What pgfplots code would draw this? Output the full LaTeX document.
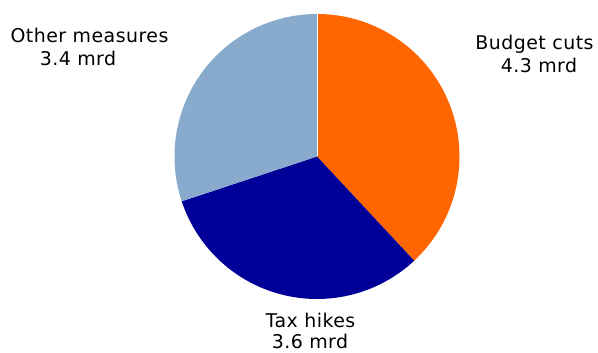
\documentclass[border=0pt]{standalone}
\usepackage{pgfplots}
\pgfplotsset{compat=1.18}
\usepackage{fontspec}
\setmainfont{DejaVu Sans}[LetterSpace=2.5]
\definecolor{cutsc}{HTML}{FF6600}
\definecolor{taxc}{HTML}{000099}
\definecolor{otherc}{HTML}{88AACC}
\def\vA{4.3}\def\vB{3.6}\def\vC{3.4}
\pgfmathsetmacro\tot{\vA+\vB+\vC}
\pgfmathsetmacro\aA{90}
\pgfmathsetmacro\aB{90-360*\vA/\tot}
\pgfmathsetmacro\aC{\aB-360*\vB/\tot}
\pgfmathsetmacro\aD{\aC-360*\vC/\tot}
\def\cx{317}\def\cy{196.5}\def\rr{142.5}
\begin{document}
\begin{tikzpicture}
\begin{axis}[hide axis, scale only axis, width=598bp, height=353bp,
  xmin=0, xmax=598, ymin=0, ymax=353, clip=false]
\path (axis cs:0,0) rectangle (axis cs:598,353);
\addplot[fill=cutsc, draw=none, domain=\aA:\aB, samples=80, smooth]
  ({\cx+\rr*cos(x)},{\cy+\rr*sin(x)}) -- (axis cs:\cx,\cy) -- cycle;
\addplot[fill=taxc, draw=none, domain=\aB:\aC, samples=80, smooth]
  ({\cx+\rr*cos(x)},{\cy+\rr*sin(x)}) -- (axis cs:\cx,\cy) -- cycle;
\addplot[fill=otherc, draw=none, domain=\aC:\aD, samples=80, smooth]
  ({\cx+\rr*cos(x)},{\cy+\rr*sin(x)}) -- (axis cs:\cx,\cy) -- cycle;
\draw[white, line width=0.4bp] (axis cs:\cx,\cy) -- (axis cs:\cx,{\cy+\rr});
\begin{scope}[every node/.style={font=\fontsize{19}{23}\selectfont, anchor=base, inner sep=0pt}]
\node at (axis cs:89.5,310) {Other measures};
\node at (axis cs:78,287) {3.4 mrd};
\node at (axis cs:534.5,303) {Budget cuts};
\node at (axis cs:539,280) {4.3 mrd};
\node at (axis cs:310.5,25.5) {Tax hikes};
\node at (axis cs:310,4.5) {3.6 mrd};
\end{scope}
\end{axis}
\end{tikzpicture}
\end{document}
